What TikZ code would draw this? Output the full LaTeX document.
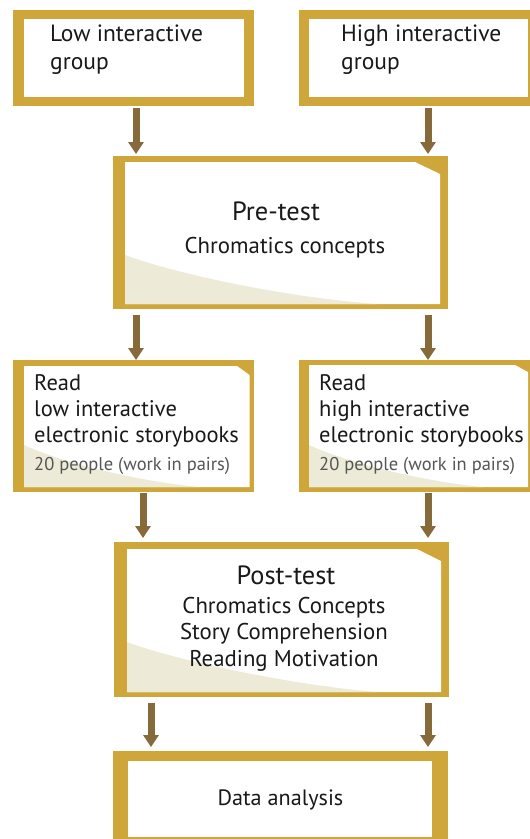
\documentclass[tikz,border=0pt]{standalone}
\usepackage{fontspec}
\setmainfont{PT Sans}
\usetikzlibrary{arrows.meta}
\definecolor{gold}{RGB}{207,166,58}
\definecolor{arrowc}{RGB}{135,106,58}
\definecolor{beige}{RGB}{237,235,216}
\definecolor{txtc}{RGB}{25,25,25}
\definecolor{graytxt}{RGB}{85,85,85}
\begin{document}
\begin{tikzpicture}[x=1pt,y=-1pt,
  goldbox/.style={fill=gold, draw=none, inner sep=0pt, outer sep=0pt, anchor=north west},
  inner/.style={fill=white, draw=none},
  shade/.style={fill=beige, draw=none},
  arr/.style={draw=arrowc, line width=7pt, -{Triangle[width=15pt,length=12pt]}},
  tbody/.style={font=\fontsize{23.5}{28}\selectfont, text=txtc, inner sep=0pt},
  tread/.style={font=\fontsize{22.5}{26}\selectfont, text=txtc, inner sep=0pt},
  tsmall/.style={font=\fontsize{18.5}{22}\selectfont, text=graytxt, inner sep=0pt},
  ttitle/.style={font=\fontsize{26.4}{30}\selectfont, text=txtc, inner sep=0pt},
  tsub/.style={font=\fontsize{22.8}{26.5}\selectfont, text=txtc, inner sep=0pt},
  tdata/.style={font=\fontsize{22.2}{26}\selectfont, text=txtc, inner sep=0pt}]
\useasboundingbox (0,0) rectangle (530,839);
\clip (0,0) rectangle (530,839);

% ---- outer gold boxes
\node[goldbox, minimum width=240.5pt, minimum height=96pt] (low) at (13,9.5) {};
\node[goldbox, minimum width=240pt, minimum height=96pt] (high) at (298.5,9.5) {};
\node[goldbox, minimum width=335pt, minimum height=153pt] (pre) at (113,156) {};
\node[goldbox, minimum width=241pt, minimum height=132pt] (readL) at (13,360) {};
\node[goldbox, minimum width=240pt, minimum height=132pt] (readR) at (298.5,360) {};
\node[goldbox, minimum width=335pt, minimum height=155pt] (post) at (114,542) {};
\node[goldbox, minimum width=335pt, minimum height=100pt] (data) at (113,751) {};

% ---- white interiors
\fill[inner] (23.7,19) rectangle (244,97);
\fill[inner] (309,19) rectangle (528,97);
\fill[inner] (125,162) -- (415,162) -- (440,174) -- (440,304) -- (125,304) -- cycle;
\fill[inner] (24,366) -- (237,366) -- (249.5,375) -- (249.5,487) -- (24,487) -- cycle;
\fill[inner] (309,365) -- (515,365) -- (528,372) -- (528,487) -- (309,487) -- cycle;
\fill[inner] (127,549) -- (417,549) -- (441,561) -- (441,692) -- (127,692) -- cycle;
\fill[inner] (128,761) rectangle (432,837);

% ---- beige shading
\fill[shade] (125,255) .. controls (170,272) and (280,297) .. (377,304) -- (125,304) -- cycle;
\fill[shade] (24,445) .. controls (60,462) and (140,482) .. (200,487) -- (24,487) -- cycle;
\fill[shade] (309,445) .. controls (345,462) and (425,482) .. (483,487) -- (309,487) -- cycle;
\fill[shade] (127,642) .. controls (175,660) and (290,685) .. (377,692) -- (127,692) -- cycle;

% ---- texts
\node[tbody, anchor=base west] (lowtxt) at (50,41)
  {\begin{tabular}[t]{@{}l@{}}Low interactive\\group\end{tabular}};
\node[tbody, anchor=base west] (hightxt) at (341,41)
  {\begin{tabular}[t]{@{}l@{}}High interactive\\group\end{tabular}};
\node[ttitle, anchor=base] (pretitle) at (276,220) {Pre-test};
\node[tsub, anchor=base] (presub) at (285,253) {Chromatics concepts};
\node[tread, anchor=base west] (readLtxt) at (34,390)
  {\begin{tabular}[t]{@{}l@{}}Read\\low interactive\\electronic storybooks\end{tabular}};
\node[tsmall, anchor=base west] (readLn) at (34,470) {20 people (work in pairs)};
\node[tread, anchor=base west] (readRtxt) at (319,390)
  {\begin{tabular}[t]{@{}l@{}}Read\\high interactive\\electronic storybooks\end{tabular}};
\node[tsmall, anchor=base west] (readRn) at (319,470) {20 people (work in pairs)};
\node[ttitle, anchor=base] (posttitle) at (286,584) {Post-test};
\node[tsub, anchor=base] (postsub) at (284,613)
  {\begin{tabular}[t]{@{}c@{}}Chromatics Concepts\\Story Comprehension\\Reading Motivation\end{tabular}};
\node[tdata, anchor=base] (datatxt) at (280.5,805) {Data analysis};

% ---- arrow columns
\coordinate (c1) at (136,0);
\coordinate (c2) at (428,0);
\coordinate (c3) at (143,0);
\coordinate (c4) at (151,0);

\draw[arr, shorten <=2.5pt, shorten >=2pt] (low.south -| c1) -- (pre.north -| c1);
\draw[arr, shorten <=2.5pt, shorten >=2pt] (high.south -| c2) -- (pre.north -| c2);
\draw[arr, shorten <=6pt, shorten >=0pt] (pre.south -| c1) -- (readL.north -| c1);
\draw[arr, shorten <=6pt, shorten >=0pt] (pre.south -| c2) -- (readR.north -| c2);
\draw[arr, shorten <=1pt, shorten >=4pt] (readL.south -| c3) -- (post.north -| c3);
\draw[arr, shorten <=1pt, shorten >=4pt] (readR.south -| c2) -- (post.north -| c2);
\draw[arr, shorten <=6pt, shorten >=4pt] (post.south -| c4) -- (data.north -| c4);
\draw[arr, shorten <=6pt, shorten >=4pt] (post.south -| c2) -- (data.north -| c2);
\end{tikzpicture}
\end{document}
